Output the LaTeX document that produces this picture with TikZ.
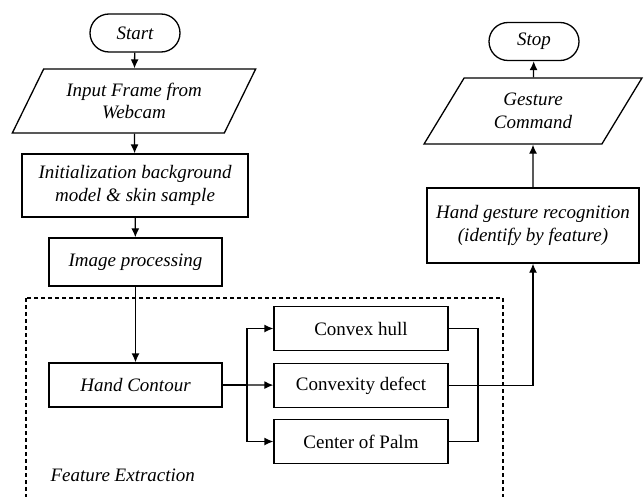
\documentclass[tikz,border=0pt]{standalone}
\usepackage{fontspec}
\setmainfont{Liberation Serif}
\usetikzlibrary{shapes.geometric,arrows.meta}

\begin{document}
\begin{tikzpicture}[
  x=1pt, y=-1pt,
  every node/.style={font=\fontsize{19}{22.5}\selectfont},
  term/.style={draw, line width=1.3pt, rounded corners=19pt, minimum width=90pt, minimum height=38pt, font=\fontsize{19}{22.5}\selectfont\itshape},
  io/.style={draw, line width=1.3pt, trapezium, trapezium left angle=58, trapezium right angle=122, trapezium stretches=true, align=center, inner sep=1pt, font=\fontsize{19}{22.5}\selectfont\itshape},
  proc/.style={draw, line width=1.3pt, align=center, inner sep=1pt, font=\fontsize{19}{22.5}\selectfont\itshape},
  feat/.style={draw, line width=1.3pt, inner sep=1pt, minimum width=174pt, minimum height=44pt},
  arr/.style={-{Latex[length=9pt,width=8pt]}, line width=1.3pt},
  ln/.style={line width=1.3pt}
]
\useasboundingbox (0,0) rectangle (644,497);
% left column
\node[term] (start) at (135,33) {Start};
\node[io, minimum width=244pt, minimum height=64pt] (input) at (134,101) {Input Frame from\\Webcam};
\node[proc, minimum width=226pt, minimum height=63pt] (init) at (135,185.5) {Initialization background\\model \& skin sample};
\node[proc, minimum width=173pt, minimum height=48pt] (improc) at (135.5,262) {Image processing};
% feature extraction
\draw[ln, dash pattern=on 4pt off 3pt] (26,298) rectangle (503,520);
\node[anchor=west, font=\fontsize{19}{22.5}\selectfont\itshape] (fe) at (47,475) {Feature Extraction};
\node[proc, minimum width=173pt, minimum height=44pt] (contour) at (135.5,385) {Hand Contour};
\node[feat] (hull) at (361,328.5) {Convex hull};
\node[feat] (defect) at (361,385.5) {Convexity defect};
\node[feat] (palm) at (361,441.5) {Center of Palm};
% right column
\node[term] (stop) at (534,41.5) {Stop};
\node[io, minimum width=218pt, minimum height=66pt] (gesture) at (533,111) {Gesture\\Command};
\node[proc, minimum width=212pt, minimum height=75pt] (recog) at (533,225.5) {Hand gesture recognition\\(identify by feature)};
\coordinate (split) at (247,385);
\coordinate (join) at (478,385);
\draw[arr] (start) -- (input);
\draw[arr] (input) -- (init);
\draw[arr] (init) -- (improc);
\draw[arr] (improc) -- (contour);
\draw[ln] (contour) -- (split);
\draw[arr] (split) -- (defect);
\draw[arr] (split) |- (hull);
\draw[arr] (split) |- (palm);
\draw[ln] (hull.east) -| (join) |- (palm.east);
\draw[arr] (defect.east) -| (recog.south);
\draw[arr] (recog) -- (gesture);
\draw[arr] (gesture) -- (stop);
\end{tikzpicture}
\end{document}
